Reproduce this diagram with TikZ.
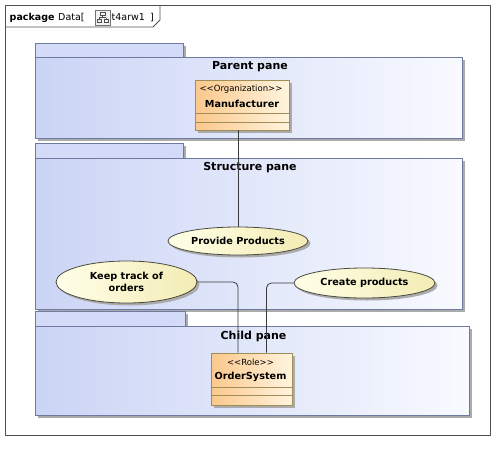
\documentclass[tikz,border=0pt]{standalone}
\usepackage{fontspec}
\setmainfont{DejaVu Sans}
\usetikzlibrary{shapes.geometric,shadows}
\definecolor{paneline}{HTML}{6E7AA0}
\definecolor{paneL}{HTML}{CBD4F5}
\definecolor{paneR}{HTML}{F8FAFF}
\definecolor{tabfill}{HTML}{D3DBF8}
\definecolor{ucL}{HTML}{FFFFE8}
\definecolor{ucR}{HTML}{F3ECB4}
\definecolor{ucline}{HTML}{4A4A40}
\definecolor{clsL}{HTML}{FBC88C}
\definecolor{clsR}{HTML}{FFF4DE}
\definecolor{clsline}{HTML}{A08E5A}
\definecolor{conn}{HTML}{3A3A3A}
\definecolor{frameline}{HTML}{505050}
\tikzset{
  myshadow/.style={drop shadow={shadow xshift=2.5pt, shadow yshift=-2.5pt, fill=black!33, opacity=1}},
  pane/.style={rectangle, draw=paneline, line width=0.9pt, left color=paneL, right color=paneR, inner sep=0pt, myshadow},
  panetab/.style={rectangle, draw=paneline, line width=0.9pt, fill=tabfill, inner sep=0pt, myshadow},
  panetitle/.style={inner sep=0pt, font=\bfseries\fontsize{11}{13}\selectfont},
  usecase/.style={ellipse, draw=ucline, line width=0.8pt, left color=ucL, right color=ucR, inner sep=0pt, myshadow, align=center, font=\bfseries\fontsize{9.7}{11.3}\selectfont},
  classbox/.style={rectangle, draw=clsline, line width=0.8pt, left color=clsL, right color=clsR, inner sep=0pt, myshadow},
  stereo/.style={inner sep=0pt, font=\fontsize{8.5}{10}\selectfont},
  cname/.style={inner sep=0pt, font=\bfseries\fontsize{9.7}{11}\selectfont},
  compline/.style={draw=clsline, line width=0.8pt},
  connector/.style={draw=conn, line width=0.8pt, rounded corners=5pt},
  hdrtext/.style={inner sep=0pt, anchor=base west, font=\fontsize{9.5}{11}\selectfont}
}
\begin{document}
\begin{tikzpicture}[x=1pt,y=-1pt]
\useasboundingbox[fill=white] (0,0) rectangle (504,450);
% outer frame
\draw[frameline, line width=0.8pt] (5,5) rectangle (490,435);
\draw[frameline, line width=0.8pt] (5,27) -- (153,27) -- (160,20) -- (160,5);
\node[hdrtext, font=\bfseries\fontsize{9.5}{11}\selectfont] (hdr) at (9.5,20) {package};
\node[hdrtext] (hdrD) at (58,20) {Data[};
\node[rectangle, draw=black!55, fill=black!5, minimum width=15pt, minimum height=15pt, inner sep=0pt] (icon) at (102.5,17.5) {};
\draw[black!70, line width=0.6pt] (100,12) rectangle (105,15.5)
  (102.5,15.5) -- (102.5,17.5) (99,17.5) -- (106,17.5) (99,17.5) -- (99,19)  (106,17.5) -- (106,19)
  (97,19) rectangle (101,22.5) (104,19) rectangle (108,22.5);
\node[hdrtext] (hdr2) at (111.5,20) {t4arw1};
\node[hdrtext] (hdr3) at (150,20) {]};
% Parent pane
\node[panetab, minimum width=148pt, minimum height=14pt] (ptab) at (109,50) {};
\node[pane, minimum width=427pt, minimum height=81pt] (parent) at (248.5,97.5) {};
\node[panetitle] (ptitle) at (250,67) {Parent pane};
% Structure pane
\node[panetab, minimum width=148pt, minimum height=15pt] (stab) at (109,150.5) {};
\node[pane, minimum width=427pt, minimum height=151pt] (structure) at (248.5,233.5) {};
\node[panetitle] (stitle) at (250,168) {Structure pane};
% Child pane
\node[panetab, minimum width=150pt, minimum height=15pt] (ctab) at (110,318.5) {};
\node[pane, minimum width=434pt, minimum height=89pt] (child) at (252,370.5) {};
\node[panetitle] (ctitle) at (253.5,336.5) {Child pane};
% Manufacturer class
\node[classbox, minimum width=94pt, minimum height=50pt] (manu) at (242,105) {};
\node[stereo] (manuS) at (241,89.5) {{<}{<}Organization{>}{>}};
\node[cname] (manuN) at (242,103.5) {Manufacturer};
\draw[compline] (manu.west |- 0,113) -- (manu.east |- 0,113);
\draw[compline] (manu.west |- 0,122) -- (manu.east |- 0,122);
% OrderSystem class
\node[classbox, minimum width=81pt, minimum height=52pt] (ord) at (251.5,379) {};
\node[stereo] (ordS) at (250.5,362.5) {{<}{<}Role{>}{>}};
\node[cname] (ordN) at (250.5,377) {OrderSystem};
\draw[compline] (ord.west |- 0,387) -- (ord.east |- 0,387);
\draw[compline] (ord.west |- 0,395) -- (ord.east |- 0,395);
% Use cases
\node[usecase, minimum width=140pt, minimum height=28pt] (prov) at (238,241) {Provide Products};
\node[usecase, minimum width=141pt, minimum height=42pt] (keep) at (126.5,282) {Keep track of\\orders};
\node[usecase, minimum width=141pt, minimum height=30pt] (create) at (364.5,283) {Create products};
% Connectors
\draw[connector] (prov.north) -- (prov.north |- manu.south);
\draw[connector] (keep.east) -| ([xshift=-13.5pt]ord.north);
\draw[connector] (create.west) -| ([xshift=15pt]ord.north);
\end{tikzpicture}
\end{document}
